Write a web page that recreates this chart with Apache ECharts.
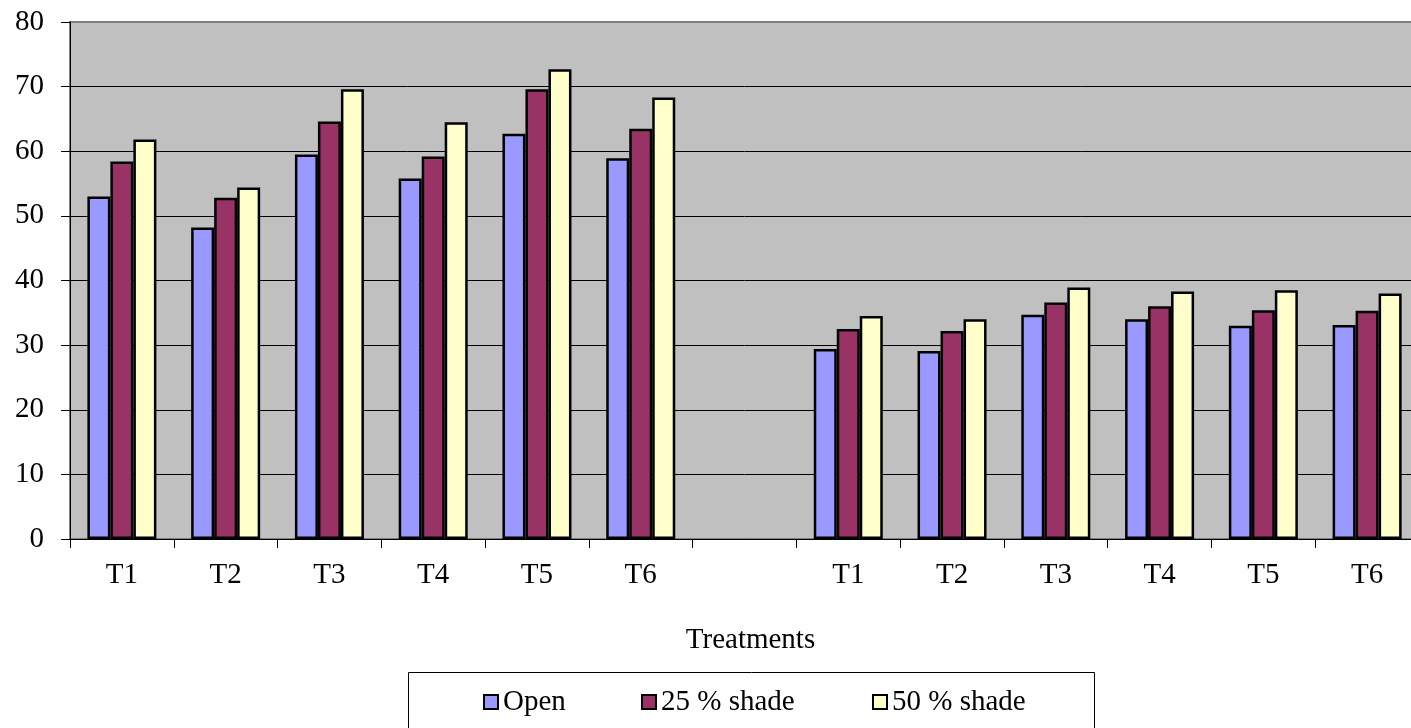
<!DOCTYPE html>
<html>
<head>
<meta charset="utf-8">
<script src="https://cdn.jsdelivr.net/npm/echarts@6/dist/echarts.min.js"></script>
<style>
  html, body { margin: 0; padding: 0; background: #ffffff; overflow: hidden; }
  #chart { width: 1420px; height: 728px; }
</style>
</head>
<body>
<div id="chart"></div>
<script>
// Treatment labels (used for both groups of bars)
const treatments = ['T1', 'T2', 'T3', 'T4', 'T5', 'T6'];

// First group of treatments
const openFirst    = [53.0, 48.2, 59.5, 55.8, 62.7, 58.9];
const shade25First = [58.4, 52.8, 64.6, 59.2, 69.6, 63.5];
const shade50First = [61.8, 54.4, 69.6, 64.5, 72.7, 68.3];

// Second group of treatments
const openSecond    = [29.4, 29.1, 34.7, 34.0, 33.0, 33.1];
const shade25Second = [32.5, 32.2, 36.6, 36.0, 35.4, 35.3];
const shade50Second = [34.5, 34.0, 38.9, 38.3, 38.5, 38.0];

// Value axis ticks
const yTicks = { min: 0, max: 80, step: 10 };

// One empty category separates the two groups
const categories = [...treatments, '', ...treatments];
const joinGroups = (a, b) => [...a, null, ...b];

const FONT = '"Liberation Serif", "Times New Roman", serif';
const COLORS = { open: '#9999FF', shade25: '#993366', shade50: '#FFFFCC' };

const chart = echarts.init(document.getElementById('chart'), null, { renderer: 'canvas' });

function barSeries(name, data, color) {
  return {
    name: name,
    type: 'bar',
    data: data,
    barGap: '0%',
    barCategoryGap: '33.5%',
    itemStyle: { color: color, borderColor: '#000000', borderWidth: 2.5 },
    emphasis: { disabled: true },
    animation: false
  };
}

function legendItem(name, left) {
  return {
    data: [name],
    left: left,
    top: 687,
    orient: 'horizontal',
    icon: 'rect',
    itemWidth: 14,
    itemHeight: 14,
    selectedMode: false,
    padding: 0,
    itemStyle: { borderColor: '#000000', borderWidth: 2 },
    textStyle: { fontFamily: FONT, fontSize: 29, color: '#000000', lineHeight: 30 }
  };
}

chart.setOption({
  animation: false,
  backgroundColor: '#ffffff',
  grid: {
    left: 70,
    top: 22,
    width: 1349,
    height: 517,
    show: true,
    backgroundColor: '#C0C0C0',
    borderColor: '#808080',
    borderWidth: 2
  },
  xAxis: {
    type: 'category',
    data: categories,
    boundaryGap: true,
    name: 'Treatments',
    nameLocation: 'middle',
    nameGap: 87,
    nameTextStyle: { fontFamily: FONT, fontSize: 29, color: '#000000', padding: [0, 0, 0, 12] },
    axisLine: { show: true, lineStyle: { color: '#000000', width: 1 } },
    axisTick: { show: true, length: 9, alignWithLabel: false, interval: 0, lineStyle: { color: '#000000' } },
    axisLabel: { interval: 0, margin: 22, fontFamily: FONT, fontSize: 29, color: '#000000' },
    splitLine: { show: false }
  },
  yAxis: {
    type: 'value',
    min: yTicks.min,
    max: yTicks.max,
    interval: yTicks.step,
    axisLine: { show: true, lineStyle: { color: '#000000', width: 1 } },
    axisTick: { show: true, length: 9, lineStyle: { color: '#000000' } },
    axisLabel: { margin: 26, fontFamily: FONT, fontSize: 29, color: '#000000' },
    splitLine: { show: true, showMaxLine: false, lineStyle: { color: '#000000', width: 1 } }
  },
  legend: [
    legendItem('Open', 483),
    legendItem('25 % shade', 641),
    legendItem('50 % shade', 872)
  ],
  graphic: [
    {
      type: 'rect',
      shape: { x: 408.5, y: 672.5, width: 686, height: 80 },
      style: { fill: 'none', stroke: '#000000', lineWidth: 1 },
      silent: true
    }
  ],
  series: [
    barSeries('Open', joinGroups(openFirst, openSecond), COLORS.open),
    barSeries('25 % shade', joinGroups(shade25First, shade25Second), COLORS.shade25),
    barSeries('50 % shade', joinGroups(shade50First, shade50Second), COLORS.shade50)
  ]
});
</script>
</body>
</html>
